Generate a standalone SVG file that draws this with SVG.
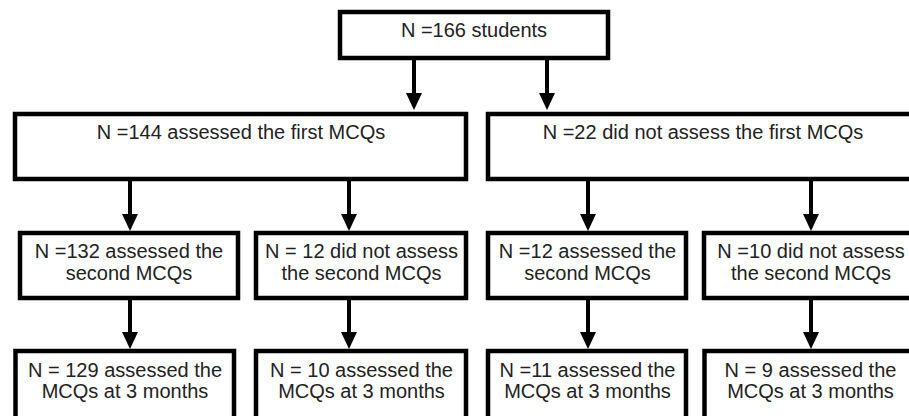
<svg xmlns="http://www.w3.org/2000/svg" width="909" height="416" viewBox="0 0 909 416">
<style>
.box{fill:#fff;stroke:#000;stroke-width:4.5}
.t{font-family:"Liberation Sans",Arial,sans-serif;font-size:20px;fill:#222;text-anchor:middle}
.c{stroke:#000;stroke-width:4;fill:none;marker-end:url(#ah)}
</style>
<defs>
<marker id="ah" viewBox="0 0 17 16" refX="1" refY="8" markerWidth="17" markerHeight="16" markerUnits="userSpaceOnUse" orient="auto">
<path d="M0,0 L17,8 L0,16 z" fill="#000"/>
</marker>
</defs>
<rect width="909" height="416" fill="#fff"/>
<g id="connectors">
<line class="c" x1="414" y1="59" x2="414" y2="94"/>
<line class="c" x1="547" y1="59" x2="547" y2="94"/>
<line class="c" x1="130" y1="180" x2="130" y2="215"/>
<line class="c" x1="349" y1="180" x2="349" y2="215"/>
<line class="c" x1="588" y1="180" x2="588" y2="215"/>
<line class="c" x1="811" y1="180" x2="811" y2="215"/>
<line class="c" x1="130" y1="300" x2="130" y2="333"/>
<line class="c" x1="349" y1="300" x2="349" y2="333"/>
<line class="c" x1="588" y1="300" x2="588" y2="333"/>
<line class="c" x1="811" y1="300" x2="811" y2="333"/>
</g>
<g id="n0"><rect class="box" x="340" y="12" width="268" height="46"/><text class="t" x="474" y="37">N =166 students</text></g>
<g id="n1"><rect class="box" x="15" y="114" width="451" height="65"/><text class="t" x="241" y="139">N =144 assessed the first MCQs</text></g>
<g id="n2"><rect class="box" x="488" y="114" width="432" height="65"/><text class="t" x="703" y="139">N =22 did not assess the first MCQs</text></g>
<g id="n3"><rect class="box" x="20" y="233" width="218" height="65"/><text class="t" x="129" y="258">N =132 assessed the</text><text class="t" x="129" y="280">second MCQs</text></g>
<g id="n4"><rect class="box" x="256" y="233" width="210" height="65"/><text class="t" x="361.5" y="258">N = 12 did not assess</text><text class="t" x="361.5" y="280">the second MCQs</text></g>
<g id="n5"><rect class="box" x="488" y="233" width="198" height="65"/><text class="t" x="587.5" y="258">N =12 assessed the</text><text class="t" x="587.5" y="280">second MCQs</text></g>
<g id="n6"><rect class="box" x="704" y="233" width="216" height="65"/><text class="t" x="811" y="258">N =10 did not assess</text><text class="t" x="811" y="280">the second MCQs</text></g>
<g id="n7"><rect class="box" x="15.5" y="351" width="218.5" height="80"/><text class="t" x="125" y="377">N = 129 assessed the</text><text class="t" x="125" y="398">MCQs at 3 months</text></g>
<g id="n8"><rect class="box" x="256" y="351" width="210" height="80"/><text class="t" x="361.5" y="377">N = 10 assessed the</text><text class="t" x="361.5" y="398">MCQs at 3 months</text></g>
<g id="n9"><rect class="box" x="488" y="351" width="198" height="80"/><text class="t" x="587.5" y="377">N =11 assessed the</text><text class="t" x="587.5" y="398">MCQs at 3 months</text></g>
<g id="n10"><rect class="box" x="704.5" y="351" width="216" height="80"/><text class="t" x="810.5" y="377">N = 9 assessed the</text><text class="t" x="810.5" y="398">MCQs at 3 months</text></g>
</svg>
